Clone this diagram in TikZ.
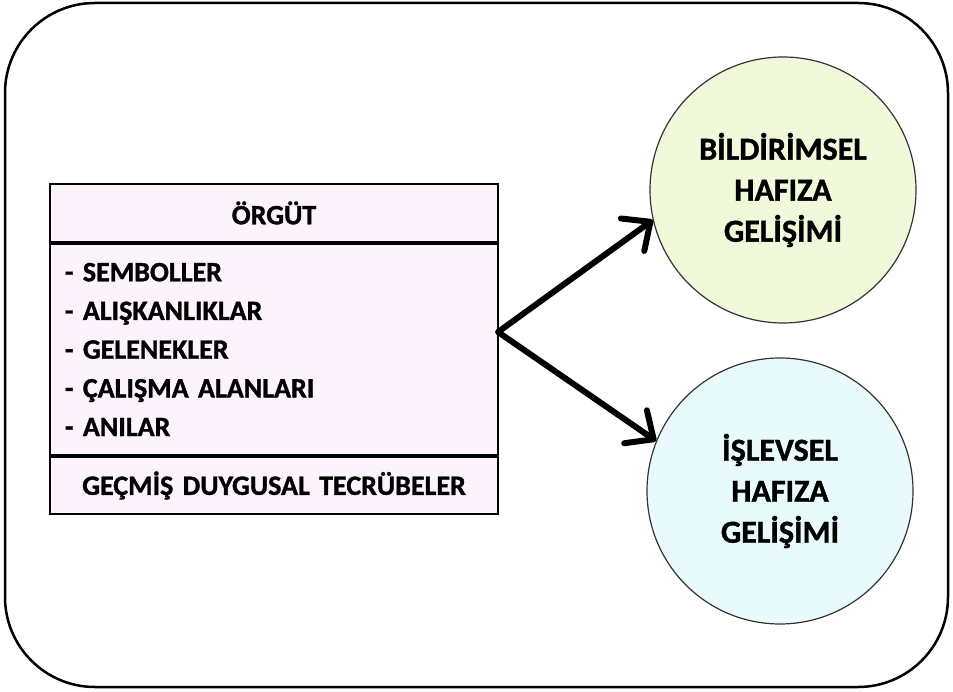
\documentclass[tikz,border=0pt]{standalone}
\usepackage{fontspec}
\setmainfont{Carlito}[BoldFeatures={FakeBold=1.2}]
\usetikzlibrary{positioning,arrows.meta}

\definecolor{boxpink}{HTML}{FCF3FC}
\definecolor{bildgreen}{HTML}{F1F9DB}
\definecolor{islblue}{HTML}{E9FAFC}

\begin{document}
\begin{tikzpicture}[x=1pt, y=1pt, font=\fontsize{28}{38.7}\selectfont\bfseries,
    part/.style={draw, line width=2pt, fill=boxpink, text width=418pt, inner xsep=15pt, inner ysep=0pt},
    memory/.style={circle, draw=black!80, line width=1.2pt, minimum size=266pt, align=center,
        font=\fontsize{32}{41}\selectfont\bfseries},
    barb/.tip={Straight Barb[length=22pt, width=40pt, line width=0pt 1, round]},
    link/.style={line width=6pt, line join=round, barb-barb}]
        \useasboundingbox (0,0) rectangle (953,691);

        % Outer frame
        \draw[line width=2.5pt, rounded corners=90pt] (5,4) rectangle (948,688);

        % Organisation box, three stacked parts
        \node[part, align=center, minimum height=58pt] (hdr) at (274,478) {ÖRGÜT};
        \node[part, align=left, minimum height=211pt, below=0pt of hdr] (items)
            {- SEMBOLLER\\- ALIŞKANLIKLAR\\- GELENEKLER\\- ÇALIŞMA ALANLARI\\- ANILAR};
        \node[part, align=center, minimum height=57pt, below=0pt of items] (ftr)
            {GEÇMİŞ DUYGUSAL TECRÜBELER};

        % Memory circles
        \node[memory, fill=bildgreen] (bild) at (783,501) {BİLDİRİMSEL\\HAFIZA\\GELİŞİMİ};
        \node[memory, fill=islblue] (isl) at (780,200) {İŞLEVSEL\\HAFIZA\\GELİŞİMİ};

        % Fork point on the box edge
        \coordinate (fork) at (498,359);

        % Arrows
        \draw[link] (bild.193) -- (fork) -- (isl.158);
    \end{tikzpicture}
\end{document}
